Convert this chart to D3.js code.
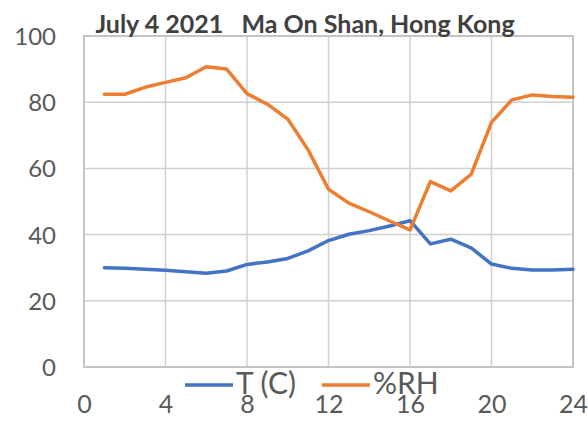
<!DOCTYPE html>
<html>
<head>
<meta charset="utf-8">
<script src="https://cdn.jsdelivr.net/npm/d3@7"></script>
<style>
  html, body { margin: 0; padding: 0; background: #ffffff; }
  svg { display: block; }
</style>
</head>
<body>
<svg id="chart" width="588" height="436"></svg>
<script>
const hours = [1,2,3,4,5,6,7,8,9,10,11,12,13,14,15,16,17,18,19,20,21,22,23,24];
const tempC = [30.0,29.8,29.5,29.2,28.8,28.3,29.0,31.0,31.7,32.8,35.1,38.2,40.1,41.2,42.6,44.2,37.2,38.6,36.0,31.1,29.8,29.3,29.3,29.5];
const relHum = [82.4,82.4,84.5,86.0,87.4,90.7,90.0,82.6,79.4,74.9,65.6,53.7,49.5,46.9,44.1,41.4,56.0,53.2,58.2,73.9,80.7,82.2,81.7,81.5];
const xTicks = [0,4,8,12,16,20,24];
const yTicks = [0,20,40,60,80,100];
const seriesNames = ["T (C)", "%RH"];
const titleText = "July 4 2021   Ma On Shan, Hong Kong";

const colors = ["#4472C4", "#ED7D31"];
const font = "Lato, 'Open Sans', sans-serif";
const svg = d3.select("#chart");

const x = d3.scaleLinear().domain([0, 24]).range([84, 573]);
const y = d3.scaleLinear().domain([0, 100]).range([367, 36]);

// gridlines
const grid = svg.append("g");
grid.selectAll("line.v").data(xTicks).join("line")
  .attr("x1", d => x(d)).attr("x2", d => x(d))
  .attr("y1", y(0)).attr("y2", y(100))
  .attr("stroke", "#d0d0d0").attr("stroke-width", 1.5);
grid.selectAll("line.h").data(yTicks).join("line")
  .attr("x1", x(0)).attr("x2", x(24))
  .attr("y1", d => y(d)).attr("y2", d => y(d))
  .attr("stroke", "#d0d0d0").attr("stroke-width", 1.5);
grid.append("rect")
  .attr("x", x(0)).attr("y", y(100))
  .attr("width", x(24) - x(0)).attr("height", y(0) - y(100))
  .attr("fill", "none").attr("stroke", "#c4c4c4").attr("stroke-width", 2);

// y axis labels
const yAxis = d3.axisLeft(y).tickValues(yTicks).tickSize(0).tickPadding(0);
const ya = svg.append("g").attr("transform", "translate(56,0)").call(yAxis);
ya.select(".domain").remove();
ya.selectAll("text").attr("font-family", font).attr("font-size", 24)
  .attr("fill", "#595959").attr("dy", "0.35em");

// x axis labels
const xAxis = d3.axisBottom(x).tickValues(xTicks).tickSize(0).tickPadding(0);
const xa = svg.append("g").attr("transform", "translate(0,388)").call(xAxis);
xa.select(".domain").remove();
xa.selectAll("text").attr("font-family", font).attr("font-size", 25)
  .attr("fill", "#595959").attr("dy", "1.0em");

// lines
const series = [tempC, relHum];
const line = d3.line().x((d, i) => x(hours[i])).y(d => y(d));
svg.append("g").selectAll("path").data(series).join("path")
  .attr("d", d => line(d))
  .attr("fill", "none")
  .attr("stroke", (d, i) => colors[i])
  .attr("stroke-width", 3.5)
  .attr("stroke-linejoin", "round")
  .attr("stroke-linecap", "round");

// title
svg.append("text")
  .attr("x", 305).attr("y", 33)
  .attr("text-anchor", "middle")
  .attr("font-family", font).attr("font-weight", "bold").attr("font-size", 25)
  .attr("fill", "#404040")
  .attr("xml:space", "preserve")
  .style("white-space", "pre")
  .text(titleText);

// legend
const legendX = [185, 322];
const lg = svg.append("g");
seriesNames.forEach((name, i) => {
  lg.append("line")
    .attr("x1", legendX[i]).attr("x2", legendX[i] + 48)
    .attr("y1", 385).attr("y2", 385)
    .attr("stroke", colors[i]).attr("stroke-width", 3.5);
  lg.append("text")
    .attr("x", legendX[i] + 51).attr("y", 394)
    .attr("font-family", font).attr("font-size", 30)
    .attr("fill", "#595959")
    .text(name);
});
</script>
</body>
</html>
